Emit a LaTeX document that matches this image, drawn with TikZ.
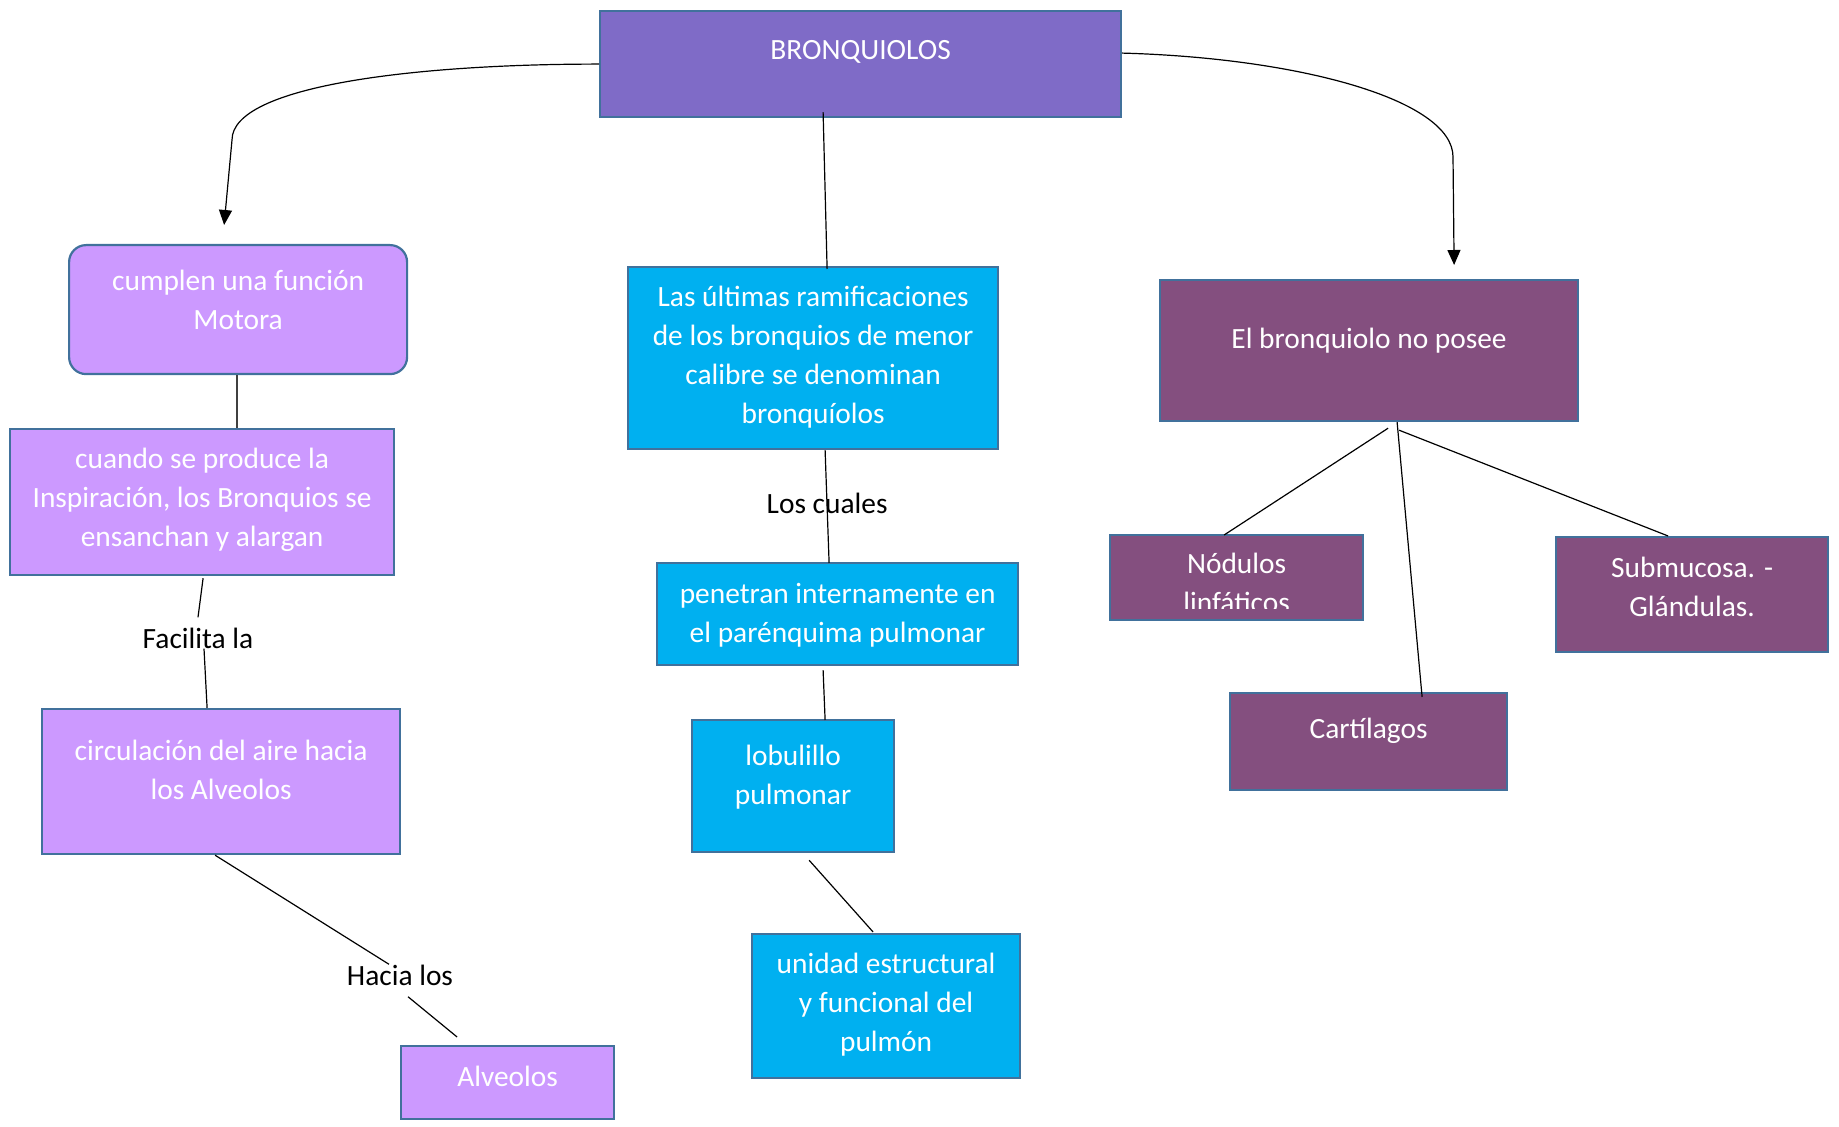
\documentclass[tikz,border=0pt]{standalone}
\usepackage{fontspec}
\setmainfont{Carlito}
\usetikzlibrary{arrows.meta}
\definecolor{borde}{RGB}{65,113,156}
\definecolor{violeta}{RGB}{127,107,199}
\definecolor{lila}{RGB}{204,153,255}
\definecolor{celeste}{RGB}{0,176,240}
\definecolor{ciruela}{RGB}{132,79,127}

\begin{document}
\begin{tikzpicture}[x=0.5pt, y=-0.5pt,
    caja/.style = {draw=borde, line width=1.1pt, anchor=north west, inner sep=0pt, align=flush center, text=white, font=\fontsize{14.7}{19.5}\selectfont},
    titulo/.style = {caja, fill=violeta},
    lilabox/.style = {caja, fill=lila},
    celbox/.style = {caja, fill=celeste},
    cirbox/.style = {caja, fill=ciruela},
    linea/.style = {black, line width=0.6pt},
    flecha/.style = {linea, -{Triangle[length=7.5pt, width=6.5pt]}},
    etiqueta/.style = {inner sep=0pt, font=\fontsize{14.7}{19.5}\selectfont}]
    \useasboundingbox (0,0) rectangle (1839,1127);

    % top
    \node[titulo, text width=260.5pt, text height=24pt, text depth=29pt] (bronq) at (599,10) {BRONQUIOLOS};

    % left column
    \node[lilabox, rounded corners=8.5pt, text width=169pt, text height=22.5pt, text depth=42pt] (motora) at (68,244) {cumplen una función\\Motora};
    \node[lilabox, text width=192pt, text height=19.5pt, text depth=53.5pt] (cuando) at (9,428) {cuando se produce la\\Inspiración, los Bronquios se\\ensanchan y alargan};
    \node[lilabox, text width=179pt, text height=25.5pt, text depth=47pt] (circ) at (41,708) {circulación del aire hacia\\los Alveolos};
    \node[lilabox, text width=106.5pt, text height=20pt, text depth=16.5pt] (alv) at (400,1045) {Alveolos};
    \node[etiqueta] (facil) at (198,638) {Facilita la};
    \node[etiqueta] (hacia) at (400,975) {Hacia los};

    % middle column
    \node[celbox, text width=185pt, text height=19.5pt, text depth=71.5pt] (ultimas) at (627,266) {Las últimas ramificaciones\\de los bronquios de menor\\calibre se denominan\\bronquíolos};
    \node[celbox, text width=180.5pt, text height=20pt, text depth=31pt] (penetran) at (656,562) {penetran internamente en\\el parénquima pulmonar};
    \node[celbox, text width=101pt, text height=22.5pt, text depth=43.5pt] (lobul) at (691,719) {lobulillo\\pulmonar};
    \node[celbox, text width=134pt, text height=19.5pt, text depth=52.5pt] (unidad) at (751,933) {unidad estructural\\y funcional del\\pulmón};

    % right column
    \node[cirbox, text width=209pt, text height=34pt, text depth=36.5pt] (elbronq) at (1159,279) {El bronquiolo no posee};
    \node[cirbox, minimum width=126.5pt, minimum height=42.5pt] (nod) at (1109,534) {};
    \begin{scope}
        \clip (nod.north west) rectangle ([yshift=6.5pt]nod.south east);
        \node[caja, draw=none, anchor=north, text width=126.5pt, text height=19pt] (nodtxt) at (nod.north) {Nódulos\\linfáticos};
    \end{scope}
    \node[cirbox, text width=138.5pt, text height=22.5pt, text depth=26pt] (cart) at (1229,692) {Cartílagos};
    \node[cirbox, text width=136pt, text height=20pt, text depth=37.5pt] (subm) at (1555,536) {Submucosa. -\\Glándulas.};

    % connectors
    \draw[flecha] (bronq.west) .. controls (420,64) and (232,85) .. (232,140) -- ([xshift=-7pt, yshift=9.5pt]motora.north);
    \draw[flecha] ([yshift=5.5pt]bronq.east) .. controls (1300,58) and (1453,100) .. (1453,157) -- ([xshift=42.5pt, yshift=7pt]elbronq.north);
    \draw[linea] ([xshift=-18.75pt, yshift=3pt]bronq.south) -- ([xshift=7pt, yshift=-1.5pt]ultimas.north);

    \draw[color=black!75, line width=1pt] ([xshift=-0.5pt]motora.south) -- ([xshift=17.5pt]cuando.north);
    \draw[linea] ([xshift=0.5pt, yshift=-1pt]cuando.south) -- ([yshift=5pt]facil.north);
    \draw[linea] ([xshift=3pt]facil.south) -- ([xshift=-7pt]circ.north);
    \draw[linea] ([xshift=-3pt]circ.south) -- ([xshift=-5.5pt]hacia.north);
    \draw[linea] ([xshift=4pt, yshift=-5.5pt]hacia.south) -- ([xshift=-25.25pt, yshift=4pt]alv.north);

    \draw[linea] ([xshift=6pt]ultimas.south) -- node[etiqueta, yshift=1.5pt] (cuales) {Los cuales} ([xshift=-4.25pt, yshift=-0.5pt]penetran.north);
    \draw[linea] ([xshift=-7.25pt, yshift=-2pt]penetran.south) -- ([xshift=16pt, yshift=-0.5pt]lobul.north);
    \draw[linea] ([xshift=8pt, yshift=-3.5pt]lobul.south) -- ([xshift=-6.5pt, yshift=0.5pt]unidad.north);

    \draw[linea] ([xshift=9.5pt, yshift=-3pt]elbronq.south) -- ([xshift=-6.25pt, yshift=-0.5pt]nod.north);
    \draw[linea] ([xshift=14pt]elbronq.south) -- ([xshift=26.75pt, yshift=-2.5pt]cart.north);
    \draw[linea] ([xshift=15pt, yshift=-4pt]elbronq.south) -- ([xshift=-12pt]subm.north);
\end{tikzpicture}
\end{document}
